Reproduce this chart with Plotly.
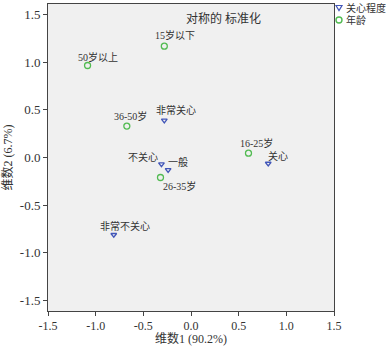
import plotly.graph_objects as go

# 关心程度 (category points)
care_labels = ["非常关心", "关心", "一般", "不关心", "非常不关心"]
care_x = [-0.28, 0.81, -0.24, -0.31, -0.81]
care_y = [0.39, -0.063, -0.13, -0.07, -0.81]

# 年龄 (category points)
age_labels = ["15岁以下", "16-25岁", "26-35岁", "36-50岁", "50岁以上"]
age_x = [-0.28, 0.603, -0.32, -0.673, -1.085]
age_y = [1.168, 0.045, -0.21, 0.33, 0.965]

x_ticks = [-1.5, -1.0, -0.5, 0.0, 0.5, 1.0, 1.5]
y_ticks = [-1.5, -1.0, -0.5, 0.0, 0.5, 1.0, 1.5]

FONT = "Liberation Serif, Times New Roman, Noto Sans CJK SC, serif"
TXT = "#333333"
BLUE = "#4256b8"
GREEN = "#52bb52"

L, R, T, B = 48, 52, 4, 40
W, H = 386, 351
PW, PH = W - L - R, H - T - B

def px(xp):
    return (xp - L) / PW

def py(yp):
    return (H - B - yp) / PH

fig = go.Figure()
fig.add_trace(go.Scatter(
    x=care_x, y=care_y, mode="markers", name="关心程度",
    marker=dict(symbol="triangle-down-open", size=5, color=BLUE, line=dict(width=1.3)),
))
fig.add_trace(go.Scatter(
    x=age_x, y=age_y, mode="markers", name="年龄",
    marker=dict(symbol="circle-open", size=6, color=GREEN, line=dict(width=1.3)),
))

care_off = {"非常关心": (12, 10), "关心": (10, 8), "一般": (10, 8), "不关心": (-18, 7), "非常不关心": (11, 9)}
age_off = {"15岁以下": (11, 11), "16-25岁": (8, 10), "26-35岁": (19, -8), "36-50岁": (4, 10), "50岁以上": (10, 9)}

for lab, x, y in zip(care_labels, care_x, care_y):
    dx, dy = care_off[lab]
    fig.add_annotation(x=x, y=y, text=lab, showarrow=False, xshift=dx, yshift=dy,
                       font=dict(family=FONT, size=10, color=TXT))
for lab, x, y in zip(age_labels, age_x, age_y):
    dx, dy = age_off[lab]
    fig.add_annotation(x=x, y=y, text=lab, showarrow=False, xshift=dx, yshift=dy,
                       font=dict(family=FONT, size=10, color=TXT))

fig.add_annotation(x=0.34, y=1.46, text="对称的 标准化", showarrow=False,
                   font=dict(family=FONT, size=12, color=TXT))

# x-axis title
fig.add_annotation(xref="paper", yref="paper", x=0.5, y=py(338), xanchor="center", yanchor="middle",
                   text="维数1 (90.2%)", showarrow=False, font=dict(family=FONT, size=12, color=TXT))

# manual legend in the right margin
fig.add_shape(type="path", xref="paper", yref="paper",
              path=f"M {px(336)} {py(5.5)} L {px(342)} {py(5.5)} L {px(339)} {py(10.5)} Z",
              line=dict(color=BLUE, width=1.2))
fig.add_shape(type="circle", xref="paper", yref="paper",
              x0=px(336), x1=px(342), y0=py(17), y1=py(23),
              line=dict(color=GREEN, width=1.4))
fig.add_annotation(xref="paper", yref="paper", x=px(344), y=py(8), xanchor="left", yanchor="middle",
                   text="关心程度", showarrow=False, font=dict(family=FONT, size=10, color=TXT))
fig.add_annotation(xref="paper", yref="paper", x=px(344), y=py(20), xanchor="left", yanchor="middle",
                   text="年龄", showarrow=False, font=dict(family=FONT, size=10, color=TXT))

fig.update_layout(
    width=W, height=H,
    margin=dict(l=L, r=R, t=T, b=B, autoexpand=False),
    paper_bgcolor="white", plot_bgcolor="#f0f0f0",
    font=dict(family=FONT, size=13, color=TXT),
    showlegend=False,
    hovermode=False,
)
fig.update_xaxes(range=[-1.5, 1.5], tickvals=x_ticks, ticktext=[f"{v:.1f}" for v in x_ticks],
                 showgrid=False, zeroline=False, showline=True, linecolor="#444444", mirror=True,
                 ticks="outside", ticklen=4, tickcolor="#444444", automargin=False,
                 tickfont=dict(size=12))
fig.update_yaxes(range=[-1.61, 1.61], tickvals=y_ticks, ticktext=[f"{v:.1f}" for v in y_ticks],
                 showgrid=False, zeroline=False, showline=True, linecolor="#444444", mirror=True,
                 ticks="outside", ticklen=4, tickcolor="#444444", automargin=False,
                 tickfont=dict(size=13),
                 title=dict(text="维数2 (6.7%)", standoff=4, font=dict(size=12)))

fig.write_html("out.html", config={"displayModeBar": False},
               post_script="document.body.style.margin='0';")
